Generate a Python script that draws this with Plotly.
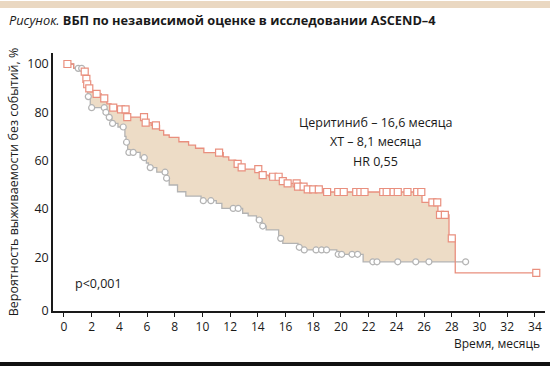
import plotly.graph_objects as go

# ---- data ----
# Ceritinib KM curve: step times (months) and survival (%) after each step
cer_t = [0, 0.7, 1.45, 1.58, 1.65, 1.75, 1.9, 2.2, 2.7, 3.1, 3.4, 3.9, 4.5, 5.85, 6.3, 6.9, 7.2, 7.6,
         8.3, 9.0, 9.5, 10.1, 11.5, 11.9, 12.4, 12.7, 13.0, 14.2, 14.8, 15.7, 16.0, 16.85, 17.4, 18.6,
         25.85, 27.0, 27.8, 28.25]
cer_s = [100, 98.3, 96.8, 93.8, 91.6, 89.9, 88.5, 87.6, 85.8, 83.5, 81.9, 81.2, 78.0, 75.7, 74.6, 72.5,
         70.6, 69.6, 67.8, 66.4, 65.1, 63.3, 61.5, 60.2, 58.6, 57.2, 56.5, 54.0, 53.3, 51.5, 50.6, 49.2,
         48.1, 47.0, 42.7, 37.5, 27.8, 13.5]
cer_end = 34.1
cer_cens = [0.25, 1.5, 1.62, 1.68, 1.83, 2.36, 2.91, 3.56, 4.12, 4.45, 4.57, 5.78, 5.9, 6.64, 11.2,
            12.54, 12.83, 14.03, 14.35, 15.1, 15.5, 15.8, 16.15, 16.8, 16.9, 17.3, 17.6, 18.0, 18.4,
            19.0, 19.8, 20.2, 21.1, 21.4, 21.7, 23.05, 23.3, 23.8, 24.1, 24.8, 25.5, 25.8, 26.6, 26.95,
            27.15, 27.5, 28.0, 34.1]

# Chemotherapy (XT) KM curve
xt_t = [0, 0.7, 1.5, 1.65, 1.72, 1.9, 2.95, 3.2, 3.45, 3.9, 4.4, 4.48, 4.6, 5.5, 5.95, 6.1, 6.7, 7.35,
        7.6, 8.2, 8.8, 9.9, 11.0, 11.4, 12.9, 13.3, 13.9, 14.3, 14.6, 15.5, 15.8, 16.9, 17.2, 19.7, 21.6]
xt_s = [100, 98.2, 94, 90, 86.5, 81.9, 80, 77.9, 75.4, 73.9, 70, 67.6, 63.4, 61.2, 59, 57.1, 55.2, 52.7,
        49.9, 47.1, 45.3, 43.4, 42.3, 40.2, 38.2, 37.1, 35.4, 32.9, 31.3, 27.8, 25.7, 24.1, 23.0, 21.2, 18.1]
xt_end = 29.0
xt_cens = [1.03, 1.28, 1.76, 2.0, 2.91, 3.03, 3.27, 3.51, 4.28, 4.52, 4.69, 5.0, 5.8, 6.23, 7.3, 7.41,
           10.06, 10.61, 12.22, 12.58, 14.1, 14.35, 15.65, 16.99, 17.35, 18.2, 18.6, 18.96, 19.8, 20.05,
           20.8, 21.2, 22.3, 22.6, 24.1, 25.4, 26.35, 29.0]

x_ticks = list(range(0, 35, 2))
y_ticks = [0, 20, 40, 60, 80, 100]

fill_until = 28.25  # where the ceritinib curve drops below the chemotherapy curve

RED = "#e98f7e"
GRAY = "#b3b3b3"
FILL = "#eddcc6"
FONT = "Open Sans"


def step_val(ts, ss, t):
    v = ss[0]
    for ti, si in zip(ts, ss):
        if ti <= t:
            v = si
    return v


def clip(ts, ss, end):
    xs = [t for t in ts if t < end]
    ys = ss[:len(xs)]
    return xs + [end], ys + [step_val(ts, ss, end - 1e-9)]


fig = go.Figure()

# shaded area between the curves
gx, gy = clip(xt_t, xt_s, fill_until)
rx, ry = clip(cer_t, cer_s, fill_until)
fig.add_trace(go.Scatter(x=gx, y=gy, mode="lines", line=dict(width=0, shape="hv"),
                         hoverinfo="skip", showlegend=False))
fig.add_trace(go.Scatter(x=rx, y=ry, mode="lines", line=dict(width=0, shape="hv"),
                         fill="tonexty", fillcolor=FILL, hoverinfo="skip", showlegend=False))

# curves
fig.add_trace(go.Scatter(x=xt_t + [xt_end], y=xt_s + [xt_s[-1]], mode="lines",
                         line=dict(color=GRAY, width=1.3, shape="hv"), showlegend=False))
fig.add_trace(go.Scatter(x=cer_t + [cer_end], y=cer_s + [cer_s[-1]], mode="lines",
                         line=dict(color=RED, width=1.3, shape="hv"), showlegend=False))

# censoring marks
fig.add_trace(go.Scatter(x=xt_cens, y=[step_val(xt_t, xt_s, t) for t in xt_cens], mode="markers",
                         marker=dict(symbol="circle", size=6, color="white",
                                     line=dict(color=GRAY, width=1.2)), showlegend=False))
fig.add_trace(go.Scatter(x=cer_cens, y=[step_val(cer_t, cer_s, t) for t in cer_cens], mode="markers",
                         marker=dict(symbol="square", size=7, color="white",
                                     line=dict(color=RED, width=1.2)), showlegend=False))

y_min = -2.28
fig.update_layout(
    width=550, height=371,
    margin=dict(l=53, r=5, t=53, b=60),
    paper_bgcolor="white", plot_bgcolor="white",
    font=dict(family=FONT, size=12, color="#1a1a1a"),
    xaxis=dict(range=[-0.79, 34.73], tickvals=x_ticks, ticktext=[str(v) for v in x_ticks],
               showgrid=False, zeroline=False, showline=True, linecolor="#1a1a1a", linewidth=1.5,
               ticks="outside", ticklen=4, tickcolor="#1a1a1a", tickwidth=1,
               tickfont=dict(size=12), automargin=False),
    yaxis=dict(range=[y_min, 104.55], tickvals=[y_min] + y_ticks[1:],
               ticktext=[str(v) for v in y_ticks],
               showgrid=False, zeroline=False, showline=True, linecolor="#1a1a1a", linewidth=1.5,
               ticks="", tickfont=dict(size=12.5), automargin=False,
               title=dict(text="Вероятность выживаемости без событий, %", font=dict(size=12.5),
                          standoff=6)),
)

# title
fig.add_annotation(text="<i>Рисунок.</i> <b>ВБП по независимой оценке в исследовании ASCEND–4</b>",
                   xref="paper", yref="paper", x=-53 / 492, y=(311 - 20) / 258,
                   xanchor="left", yanchor="middle", showarrow=False,
                   font=dict(size=12.8, color="#1a1a1a"), xshift=7)

# text in plot
for txt, yv in [("Церитиниб – 16,6 месяца", 75.6), ("ХТ – 8,1 месяца", 67.7), ("HR 0,55", 59.8)]:
    fig.add_annotation(text=txt, x=22.5, y=yv, showarrow=False, xanchor="center", yanchor="middle",
                       font=dict(size=12.5))
fig.add_annotation(text="p<0,001", x=2.53, y=9.3, showarrow=False, xanchor="center",
                   yanchor="middle", font=dict(size=12.5))
fig.add_annotation(text="Время, месяць", xref="paper", yref="paper", x=(542 - 53) / 492,
                   y=(311 - 343) / 258, xanchor="right", yanchor="middle", showarrow=False,
                   font=dict(size=12))

# decorative bands
fig.add_shape(type="rect", xref="paper", yref="paper", x0=-53 / 492, x1=497 / 492,
              y0=(311 - 8) / 258, y1=(311 - 1) / 258, fillcolor="#ead8c2", line=dict(width=0))
fig.add_shape(type="line", xref="paper", yref="paper", x0=-53 / 492, x1=497 / 492,
              y0=(311 - 364) / 258, y1=(311 - 364) / 258, line=dict(color="#111111", width=4))

fig.write_html("out.html", config={"displayModeBar": False},
               post_script="document.body.style.margin='0px';")
